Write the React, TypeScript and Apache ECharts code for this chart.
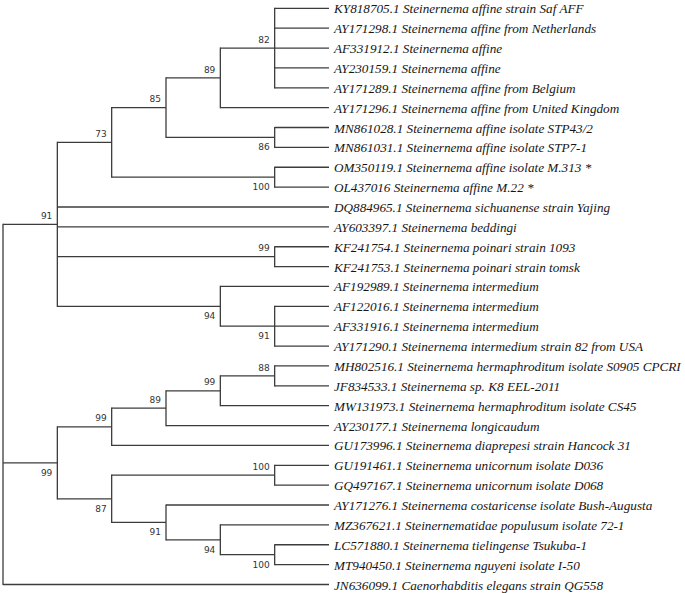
import React, { useEffect, useRef } from "react";
import * as echarts from "echarts";

const tipNames: string[] = [
  "KY818705.1 Steinernema affine strain Saf AFF",
  "AY171298.1 Steinernema affine from Netherlands",
  "AF331912.1 Steinernema affine",
  "AY230159.1 Steinernema affine",
  "AY171289.1 Steinernema affine from Belgium",
  "AY171296.1 Steinernema affine from United Kingdom",
  "MN861028.1 Steinernema affine isolate STP43/2",
  "MN861031.1 Steinernema affine isolate STP7-1",
  "OM350119.1 Steinernema affine isolate M.313 *",
  "OL437016 Steinernema affine M.22 *",
  "DQ884965.1 Steinernema sichuanense strain Yajing",
  "AY603397.1 Steinernema beddingi",
  "KF241754.1 Steinernema poinari strain 1093",
  "KF241753.1 Steinernema poinari strain tomsk",
  "AF192989.1 Steinernema intermedium",
  "AF122016.1 Steinernema intermedium",
  "AF331916.1 Steinernema intermedium",
  "AY171290.1 Steinernema intermedium strain 82 from USA",
  "MH802516.1 Steinernema hermaphroditum isolate S0905 CPCRI",
  "JF834533.1 Steinernema sp. K8 EEL-2011",
  "MW131973.1 Steinernema hermaphroditum isolate CS45",
  "AY230177.1 Steinernema longicaudum",
  "GU173996.1 Steinernema diaprepesi strain Hancock 31",
  "GU191461.1 Steinernema unicornum isolate D036",
  "GQ497167.1 Steinernema unicornum isolate D068",
  "AY171276.1 Steinernema costaricense isolate Bush-Augusta",
  "MZ367621.1 Steinernematidae populusum isolate 72-1",
  "LC571880.1 Steinernema tielingense Tsukuba-1",
  "MT940450.1 Steinernema nguyeni isolate I-50",
  "JN636099.1 Caenorhabditis elegans strain QG558",
];

type TreeNode = number | { s: number | null; up: boolean; c: TreeNode[] };
const n = (s: number | null, up: boolean, ...c: TreeNode[]): TreeNode => ({ s, up, c });

// topology with bootstrap support values (up = label drawn above the branch)
const tree: TreeNode = n(null, true,
  n(91, true,
    n(73, true,
      n(85, true,
        n(89, true, n(82, true, 0, 1, 2, 3, 4), 5),
        n(86, false, 6, 7)),
      n(100, false, 8, 9)),
    10, 11,
    n(99, true, 12, 13),
    n(94, false, 14, n(91, false, 15, 16, 17))),
  n(99, false,
    n(99, true,
      n(89, true, n(99, true, n(88, true, 18, 19), 20), 21),
      22),
    n(87, false,
      n(100, true, 23, 24),
      n(91, false, 25, n(94, false, 26, n(100, false, 27, 28))))),
  29);

const MAX_DEPTH = 6;

function heightOf(t: TreeNode): number {
  if (typeof t === "number") return 0;
  return 1 + Math.max(...t.c.map(heightOf));
}

const segments: number[][] = [];
const supports: number[][] = [];
const supportText: string[] = [];

function layout(t: TreeNode): { x: number; y: number } {
  if (typeof t === "number") return { x: MAX_DEPTH, y: t };
  const x = MAX_DEPTH - heightOf(t);
  const kids = t.c.map(layout);
  const y0 = kids[0].y;
  const y1 = kids[kids.length - 1].y;
  segments.push([x, y0, x, y1]);
  kids.forEach((k) => segments.push([x, k.y, k.x, k.y]));
  const y = (y0 + y1) / 2;
  if (t.s !== null) {
    supports.push([x, y, t.up ? 1 : 0]);
    supportText.push(String(t.s));
  }
  return { x, y };
}
layout(tree);

const tips = tipNames.map((_, i) => [MAX_DEPTH, i]);

export default function App() {
  const ref = useRef<HTMLDivElement>(null);
  useEffect(() => {
    document.body.style.margin = "0";
    if (!ref.current) return;
    const chart = echarts.init(ref.current, undefined, { renderer: "svg" });
    chart.setOption({
      animation: false,
      backgroundColor: "#ffffff",
      grid: { left: 3, top: 8.3, width: 326, height: 576.2 },
      xAxis: { type: "value", min: 0, max: MAX_DEPTH, show: false },
      yAxis: { type: "value", min: 0, max: tipNames.length - 1, inverse: true, show: false },
      series: [
        {
          type: "custom",
          clip: false,
          silent: true,
          data: segments,
          renderItem: (params: any, api: any) => {
            const p1 = api.coord([api.value(0), api.value(1)]);
            const p2 = api.coord([api.value(2), api.value(3)]);
            const vertical = Math.abs(p1[0] - p2[0]) < 0.01;
            return {
              type: "line",
              shape: {
                x1: p1[0], y1: vertical ? p1[1] - 0.6 : p1[1],
                x2: p2[0], y2: vertical ? p2[1] + 0.6 : p2[1],
              },
              style: { stroke: "#3c3c3c", lineWidth: 1.3 },
            };
          },
        },
        {
          type: "custom",
          clip: false,
          silent: true,
          data: tips,
          renderItem: (params: any, api: any) => {
            const p = api.coord([api.value(0), api.value(1)]);
            return {
              type: "text",
              x: p[0] + 5,
              y: p[1] + 0.5,
              style: {
                text: tipNames[params.dataIndex],
                fill: "#161616",
                fontFamily: "Liberation Serif",
                fontStyle: "italic",
                fontSize: 13.2,
                align: "left",
                verticalAlign: "middle",
              },
            };
          },
        },
        {
          type: "custom",
          clip: false,
          silent: true,
          data: supports,
          renderItem: (params: any, api: any) => {
            const p = api.coord([api.value(0), api.value(1)]);
            const up = api.value(2) === 1;
            return {
              type: "text",
              x: p[0] - 5,
              y: up ? p[1] - 8.3 : p[1] + 10,
              style: {
                text: supportText[params.dataIndex],
                fill: "#333333",
                fontFamily: "DejaVu Sans",
                fontSize: 9,
                align: "right",
                verticalAlign: "middle",
              },
            };
          },
        },
      ],
    });
    return () => chart.dispose();
  }, []);
  return <div ref={ref} style={{ width: 685, height: 593 }} />;
}
